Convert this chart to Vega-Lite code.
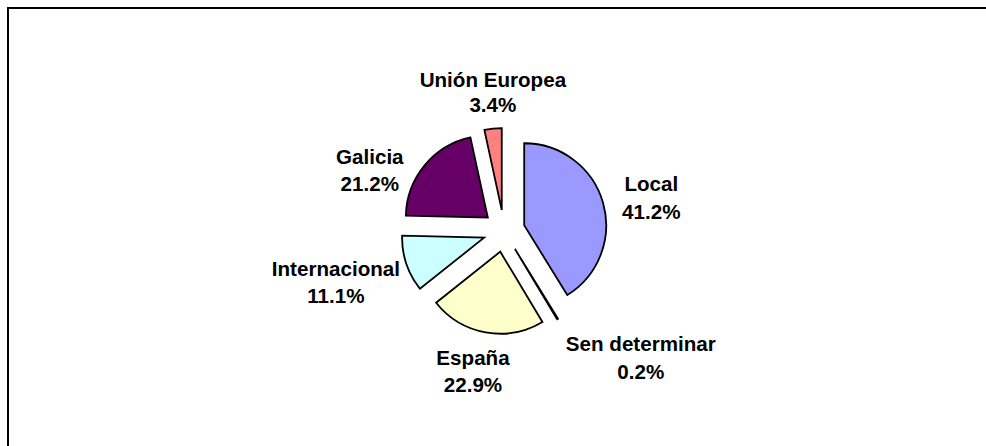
{
  "$schema": "https://vega.github.io/schema/vega-lite/v6.json",
  "width": 992,
  "height": 446,
  "autosize": {"type": "none"},
  "padding": {"left": 8, "top": 8, "right": 0, "bottom": 0},
  "background": "white",
  "config": {"view": {"stroke": "black", "strokeWidth": 2}},
  "data": {
    "values": [
      {"category": "Local", "value": 41.2, "order": 1},
      {"category": "Sen determinar", "value": 0.2, "order": 2},
      {"category": "España", "value": 22.9, "order": 3},
      {"category": "Internacional", "value": 11.1, "order": 4},
      {"category": "Galicia", "value": 21.2, "order": 5},
      {"category": "Unión Europea", "value": 3.4, "order": 6}
    ]
  },
  "transform": [
    {"window": [{"op": "sum", "field": "value", "as": "end"}], "sort": [{"field": "order"}], "frame": [null, 0]},
    {"calculate": "datum.end - datum.value", "as": "start"},
    {"calculate": "(datum.start + datum.end) / 2", "as": "midPct"},
    {"calculate": "sin(datum.midPct * PI / 50)", "as": "ex"},
    {"calculate": "-cos(datum.midPct * PI / 50)", "as": "ey"},
    {"calculate": "[datum.category, format(datum.value, '.1f') + '%']", "as": "lbl"}
  ],
  "layer": [
    {
      "mark": {"type": "arc", "radius": 82, "stroke": "black", "strokeWidth": 1.8, "strokeJoin": "miter"},
      "encoding": {
        "theta": {"field": "start", "type": "quantitative", "stack": null, "scale": {"domain": [0, 100]}},
        "theta2": {"field": "end"},
        "x": {"field": "ex", "type": "quantitative", "axis": null, "scale": {"domain": [-1, 1], "range": [475, 517], "nice": false, "zero": false}},
        "y": {"field": "ey", "type": "quantitative", "axis": null, "scale": {"domain": [-1, 1], "range": [202, 244], "nice": false, "zero": false}},
        "color": {
          "field": "category", "type": "nominal", "legend": null,
          "scale": {
            "domain": ["Local", "Sen determinar", "España", "Internacional", "Galicia", "Unión Europea"],
            "range": ["#9999FF", "#FFFFFF", "#FFFFCC", "#CCFFFF", "#660066", "#FF8080"]
          }
        }
      }
    },
    {
      "transform": [{"filter": "datum.category == 'Unión Europea'"}],
      "mark": {"type": "text", "radius": 138, "thetaOffset": 0.026, "dy": -12, "font": "Liberation Sans", "fontWeight": "bold", "fontSize": 20.6, "lineHeight": 25, "align": "center", "baseline": "middle", "color": "black"},
      "encoding": {"theta": {"field": "midPct", "type": "quantitative", "stack": null}, "text": {"field": "lbl"}}
    },
    {
      "transform": [{"filter": "datum.category == 'Local'"}],
      "mark": {"type": "text", "radius": 151, "thetaOffset": 0.054, "dy": -13, "font": "Liberation Sans", "fontWeight": "bold", "fontSize": 20.6, "lineHeight": 28, "align": "center", "baseline": "middle", "color": "black"},
      "encoding": {"theta": {"field": "midPct", "type": "quantitative", "stack": null}, "text": {"field": "lbl"}}
    },
    {
      "transform": [{"filter": "datum.category == 'Sen determinar'"}],
      "mark": {"type": "text", "radius": 187, "thetaOffset": -0.274, "dy": -13, "font": "Liberation Sans", "fontWeight": "bold", "fontSize": 20.6, "lineHeight": 28, "align": "center", "baseline": "middle", "color": "black"},
      "encoding": {"theta": {"field": "midPct", "type": "quantitative", "stack": null}, "text": {"field": "lbl"}}
    },
    {
      "transform": [{"filter": "datum.category == 'España'"}],
      "mark": {"type": "text", "radius": 144, "thetaOffset": 0.038, "dy": -13, "font": "Liberation Sans", "fontWeight": "bold", "fontSize": 20.6, "lineHeight": 27, "align": "center", "baseline": "middle", "color": "black"},
      "encoding": {"theta": {"field": "midPct", "type": "quantitative", "stack": null}, "text": {"field": "lbl"}}
    },
    {
      "transform": [{"filter": "datum.category == 'Internacional'"}],
      "mark": {"type": "text", "radius": 176, "thetaOffset": 0.023, "dy": -13, "font": "Liberation Sans", "fontWeight": "bold", "fontSize": 20.6, "lineHeight": 27, "align": "center", "baseline": "middle", "color": "black"},
      "encoding": {"theta": {"field": "midPct", "type": "quantitative", "stack": null}, "text": {"field": "lbl"}}
    },
    {
      "transform": [{"filter": "datum.category == 'Galicia'"}],
      "mark": {"type": "text", "radius": 147, "thetaOffset": -0.271, "dy": -13, "font": "Liberation Sans", "fontWeight": "bold", "fontSize": 20.6, "lineHeight": 27, "align": "center", "baseline": "middle", "color": "black"},
      "encoding": {"theta": {"field": "midPct", "type": "quantitative", "stack": null}, "text": {"field": "lbl"}}
    }
  ]
}
